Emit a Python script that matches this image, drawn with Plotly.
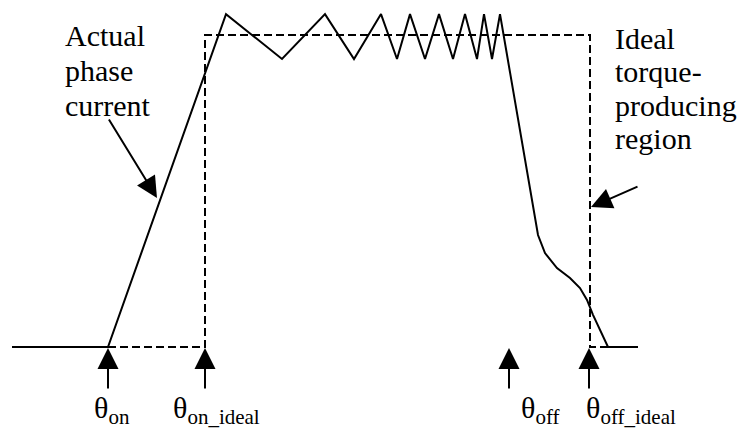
import plotly.graph_objects as go

# ---------------- data ----------------
# Actual phase current (x: rotor angle in arbitrary units, y: normalized current)
cur_x = [12, 108, 226, 282, 325, 354, 381, 397, 410, 425, 439, 453, 465, 477, 484,
         492, 500, 532, 535, 538, 545, 557, 570, 580, 587, 593, 608, 638]
cur_y = [0.0, 0.0, 1.067, 0.923, 1.067, 0.923, 1.067, 0.923, 1.067, 0.923, 1.067,
         0.923, 1.067, 0.923, 1.067, 0.923, 1.067, 0.471, 0.407, 0.359, 0.301,
         0.253, 0.221, 0.189, 0.151, 0.103, 0.0, 0.0]

# Ideal torque-producing region (dashed)
ideal_x = [108, 205, 205, 590, 590, 608]
ideal_y = [0.0, 0.0, 1.0, 1.0, 0.0, 0.0]

# Angle markers
angle_x = [108, 205, 509, 589]
angle_labels = ["θ<sub>on</sub>", "θ<sub>on_ideal</sub>", "θ<sub>off</sub>", "θ<sub>off_ideal</sub>"]
angle_label_x = [92, 171, 519, 584]

left_lines = ["Actual", "phase", "current"]
right_lines = ["Ideal", "torque-", "producing", "region"]

# ---------------- figure ----------------
W, H = 745, 428
base_px, unit_px = 347, 312
ymin = -(H - base_px) / unit_px
ymax = base_px / unit_px


def py(p):
    """pixel row -> data y"""
    return (base_px - p) / unit_px


FONT = "'Liberation Serif', 'Times New Roman', Times, serif"

fig = go.Figure()
fig.add_trace(go.Scatter(x=ideal_x, y=ideal_y, mode="lines",
                         line=dict(color="black", width=2, dash="8px,4px"),
                         hoverinfo="skip", showlegend=False))
fig.add_trace(go.Scatter(x=cur_x, y=cur_y, mode="lines",
                         line=dict(color="black", width=2, shape="linear"),
                         hoverinfo="skip", showlegend=False))

ann = []
AH = dict(arrowhead=2, arrowsize=2.1, arrowwidth=2, arrowcolor="black")
# bottom up arrows
for ax_ in angle_x:
    ann.append(dict(x=ax_, y=py(348), ax=ax_, ay=py(390), xref="x", yref="y",
                    axref="x", ayref="y", text="", showarrow=True,
                    standoff=0, startstandoff=0, **AH))
# pointer arrows
ann.append(dict(x=157, y=py(198), ax=108, ay=py(118), xref="x", yref="y",
                axref="x", ayref="y", text="", showarrow=True, **AH))
ann.append(dict(x=591, y=py(207), ax=639, ay=py(186), xref="x", yref="y",
                axref="x", ayref="y", text="", showarrow=True, **AH))

# angle labels
for lx, lab in zip(angle_label_x, angle_labels):
    ann.append(dict(x=lx, y=py(410), xref="x", yref="y", text=lab, showarrow=False,
                    xanchor="left", yanchor="middle",
                    font=dict(family=FONT, size=30, color="black")))

for i, t in enumerate(left_lines):
    ann.append(dict(x=63, y=py(35 + 35 * i), xref="x", yref="y", text=t, showarrow=False,
                    xanchor="left", yanchor="middle",
                    font=dict(family=FONT, size=30, color="black")))
for i, t in enumerate(right_lines):
    ann.append(dict(x=613, y=py(38 + 33.5 * i), xref="x", yref="y", text=t, showarrow=False,
                    xanchor="left", yanchor="middle",
                    font=dict(family=FONT, size=30, color="black")))

fig.update_layout(
    width=W, height=H,
    margin=dict(l=0, r=0, t=0, b=0),
    paper_bgcolor="white", plot_bgcolor="white",
    font=dict(family=FONT, color="black"),
    xaxis=dict(range=[0, W], visible=False, fixedrange=True),
    yaxis=dict(range=[ymin, ymax], visible=False, fixedrange=True),
    annotations=ann,
    showlegend=False,
)

fig.write_html("out.html", config={"displayModeBar": False},
               post_script="document.body.style.margin='0';document.body.style.overflow='hidden';")
